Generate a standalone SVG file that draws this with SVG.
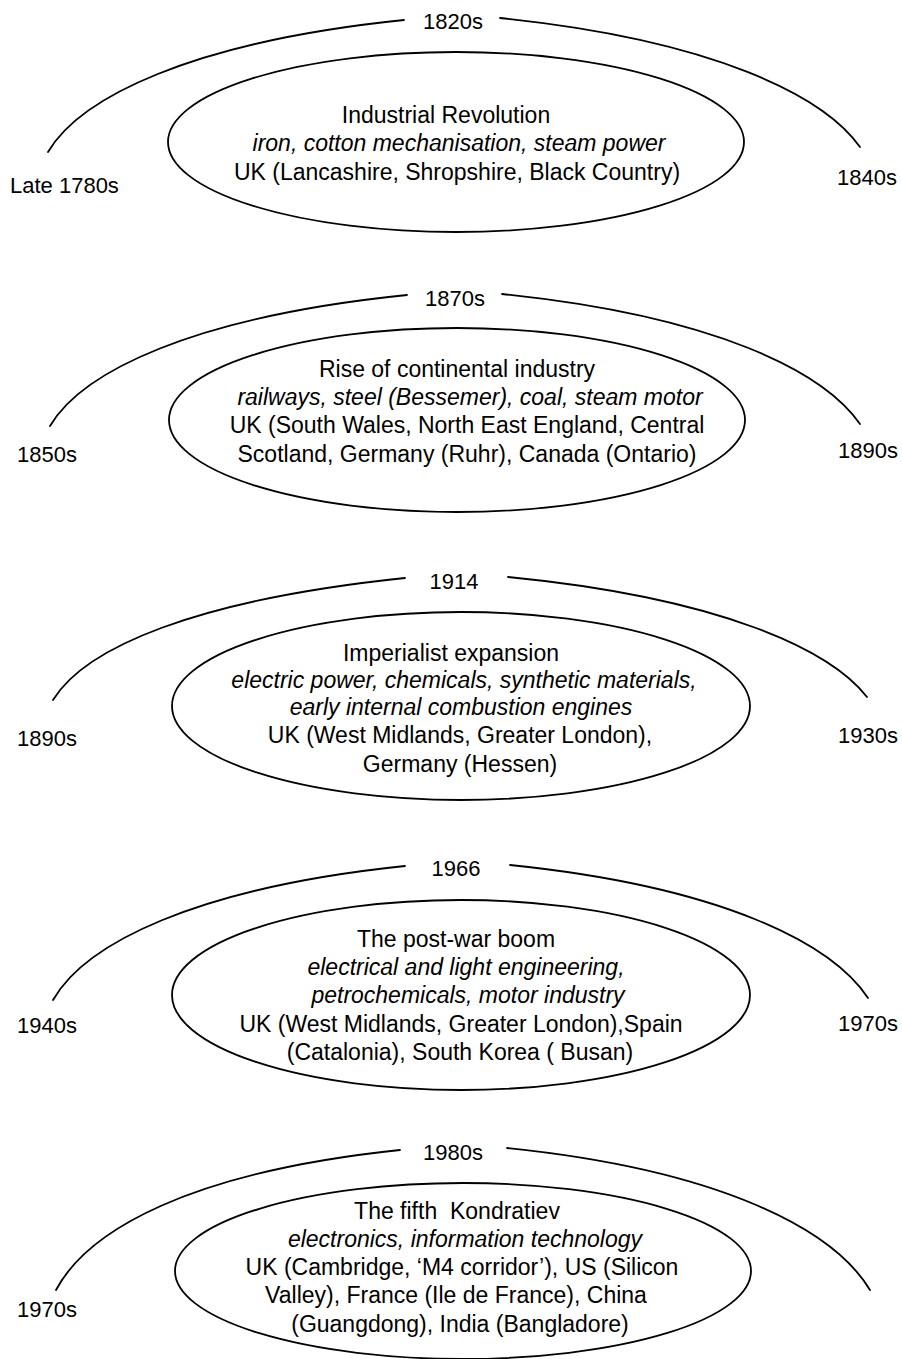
<svg xmlns="http://www.w3.org/2000/svg" width="902" height="1359" viewBox="0 0 902 1359">
  <style>
    .bg { fill: #ffffff; }
    .t { font-family: "Liberation Sans", Arial, Helvetica, sans-serif; font-size: 23px; fill: #000; text-anchor: middle; }
    .d { font-size: 22px; }
    .i { font-style: italic; }
    .s { text-anchor: start; }
    .wave { fill: none; stroke: #000; stroke-width: 1.8; }
    .arc { fill: none; stroke: #000; stroke-width: 1.8; stroke-linecap: round; }
  </style>
  <rect class="bg" x="0" y="0" width="902" height="1359"/>

  <!-- rising and falling limbs of each long wave -->
  <g id="connectors">
    <path class="arc" d="M48,152 C80,98 190,42 404,20"/>
    <path class="arc" d="M500,18 C714,40 824,96 860,147"/>

    <path class="arc" d="M50,426 C82,372 192,317 407,295"/>
    <path class="arc" d="M502,294 C716,316 824,372 860,424"/>

    <path class="arc" d="M53,700 C85,648 194,600 405,578"/>
    <path class="arc" d="M508,577 C722,598 830,650 867,697"/>

    <path class="arc" d="M53,1000 C85,944 194,888 405,866"/>
    <path class="arc" d="M510,865 C724,887 832,944 868,998"/>

    <path class="arc" d="M56,1290 C88,1230 190,1172 400,1150"/>
    <path class="arc" d="M507,1148 C722,1170 834,1230 870,1290"/>
  </g>

  <!-- wave 1 -->
  <g id="peak-1820s"><text class="t d" x="453" y="29">1820s</text></g>
  <g id="start-1780s"><text class="t d s" x="10" y="193">Late 1780s</text></g>
  <g id="end-1840s"><text class="t d s" x="837" y="185">1840s</text></g>
  <g id="wave-industrial-revolution">
    <ellipse class="wave" cx="456" cy="142" rx="288" ry="90"/>
    <text class="t" x="446" y="123">Industrial Revolution</text>
    <text class="t i" x="459" y="151">iron, cotton mechanisation, steam power</text>
    <text class="t" x="457" y="180">UK (Lancashire, Shropshire, Black Country)</text>
  </g>

  <!-- wave 2 -->
  <g id="peak-1870s"><text class="t d" x="455" y="306">1870s</text></g>
  <g id="start-1850s"><text class="t d s" x="17" y="462">1850s</text></g>
  <g id="end-1890s"><text class="t d s" x="838" y="458">1890s</text></g>
  <g id="wave-continental-industry">
    <ellipse class="wave" cx="457" cy="420" rx="288" ry="92"/>
    <text class="t" x="457" y="377">Rise of continental industry</text>
    <text class="t i" x="470" y="405">railways, steel (Bessemer), coal, steam motor</text>
    <text class="t" x="467" y="433">UK (South Wales, North East England, Central</text>
    <text class="t" x="467" y="462">Scotland, Germany (Ruhr), Canada (Ontario)</text>
  </g>

  <!-- wave 3 -->
  <g id="peak-1914"><text class="t d" x="454" y="589">1914</text></g>
  <g id="start-1890s"><text class="t d s" x="17" y="746">1890s</text></g>
  <g id="end-1930s"><text class="t d s" x="838" y="743">1930s</text></g>
  <g id="wave-imperialist-expansion">
    <ellipse class="wave" cx="461" cy="706" rx="289" ry="94"/>
    <text class="t" x="451" y="661">Imperialist expansion</text>
    <text class="t i" x="464" y="688">electric power, chemicals, synthetic materials,</text>
    <text class="t i" x="461" y="715">early internal combustion engines</text>
    <text class="t" x="460" y="743">UK (West Midlands, Greater London),</text>
    <text class="t" x="460" y="772">Germany (Hessen)</text>
  </g>

  <!-- wave 4 -->
  <g id="peak-1966"><text class="t d" x="456" y="876">1966</text></g>
  <g id="start-1940s"><text class="t d s" x="17" y="1033">1940s</text></g>
  <g id="end-1970s"><text class="t d s" x="838" y="1031">1970s</text></g>
  <g id="wave-post-war-boom">
    <ellipse class="wave" cx="461" cy="995" rx="289" ry="95"/>
    <text class="t" x="456" y="947">The post-war boom</text>
    <text class="t i" x="466" y="975">electrical and light engineering,</text>
    <text class="t i" x="468" y="1003">petrochemicals, motor industry</text>
    <text class="t" x="461" y="1032">UK (West Midlands, Greater London),Spain</text>
    <text class="t" x="460" y="1060">(Catalonia), South Korea ( Busan)</text>
  </g>

  <!-- wave 5 -->
  <g id="peak-1980s"><text class="t d" x="453" y="1160">1980s</text></g>
  <g id="start-1970s"><text class="t d s" x="17" y="1317">1970s</text></g>
  <g id="wave-fifth-kondratiev">
    <ellipse class="wave" cx="463" cy="1271" rx="288" ry="88"/>
    <text class="t" x="457" y="1219" xml:space="preserve">The fifth  Kondratiev</text>
    <text class="t i" x="465" y="1247">electronics, information technology</text>
    <text class="t" x="462" y="1275">UK (Cambridge, ‘M4 corridor’), US (Silicon</text>
    <text class="t" x="456" y="1303">Valley), France (Ile de France), China</text>
    <text class="t" x="460" y="1332">(Guangdong), India (Bangladore)</text>
  </g>
</svg>
